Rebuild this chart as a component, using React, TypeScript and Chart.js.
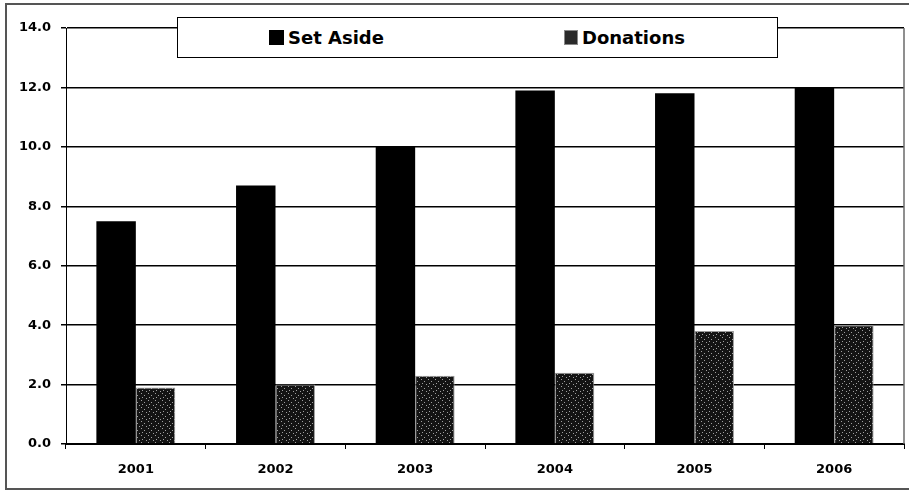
import React, { useEffect, useRef } from "react";
import { Chart, registerables } from "chart.js";

Chart.register(...registerables);

const categories = ["2001", "2002", "2003", "2004", "2005", "2006"];
const setAside = [7.5, 8.7, 10.0, 11.9, 11.8, 12.0];
const donations = [1.9, 2.0, 2.3, 2.4, 3.8, 4.0];
const seriesNames = ["Set Aside", "Donations"];

const FONT = "'DejaVu Sans', Verdana, sans-serif";

function makeDottedPattern(): CanvasPattern | string {
  const c = document.createElement("canvas");
  c.width = 7;
  c.height = 7;
  const ctx = c.getContext("2d");
  if (!ctx) return "#222";
  ctx.fillStyle = "#141414";
  ctx.fillRect(0, 0, 7, 7);
  ctx.fillStyle = "#a0a0a0";
  const dots = [
    [1, 1],
    [4, 3],
    [2, 5],
    [6, 6],
  ];
  dots.forEach(([x, y]) => ctx.fillRect(x, y, 1, 1));
  const p = ctx.createPattern(c, "repeat");
  return p || "#222";
}

const plotFrame = {
  id: "plotFrame",
  afterDraw(chart: any) {
    const { ctx, chartArea } = chart;
    ctx.save();
    ctx.strokeStyle = "#6a6a6a";
    ctx.lineWidth = 1.5;
    ctx.beginPath();
    ctx.moveTo(chartArea.right, chartArea.top);
    ctx.lineTo(chartArea.right, chartArea.bottom);
    ctx.stroke();
    ctx.restore();
  },
};

export default function App() {
  const canvasRef = useRef<HTMLCanvasElement | null>(null);

  useEffect(() => {
    if (!canvasRef.current) return;
    const pattern = makeDottedPattern();
    const chart = new Chart(canvasRef.current, {
      type: "bar",
      data: {
        labels: categories,
        datasets: [
          {
            label: seriesNames[0],
            data: setAside,
            backgroundColor: "#000000",
            borderColor: "#000000",
            borderWidth: 0,
          },
          {
            label: seriesNames[1],
            data: donations,
            backgroundColor: pattern as any,
            borderColor: "#9a9a9a",
            borderWidth: 1,
          },
        ],
      },
      options: {
        animation: false,
        responsive: false,
        maintainAspectRatio: false,
        devicePixelRatio: 1,
        layout: { padding: { left: 0, top: 28, right: 5, bottom: 0 } },
        plugins: {
          legend: { display: false },
          tooltip: { enabled: false },
          title: { display: false },
        },
        datasets: {
          bar: { categoryPercentage: 0.565, barPercentage: 1.0 },
        },
        scales: {
          x: {
            offset: true,
            grid: {
              display: true,
              offset: true,
              drawOnChartArea: false,
              drawTicks: true,
              tickLength: 5,
              color: "#000",
              lineWidth: 1,
            },
            border: { display: true, color: "#000", width: 2 },
            ticks: {
              color: "#000",
              padding: 13,
              font: { family: FONT, size: 13, weight: "bold" },
            },
            afterFit(scale: any) {
              scale.height = 49;
            },
          },
          y: {
            min: 0,
            max: 14,
            ticks: {
              stepSize: 2,
              color: "#000",
              padding: 10,
              font: { family: FONT, size: 13, weight: "bold" },
              callback: (v: any) => Number(v).toFixed(1),
            },
            grid: {
              display: true,
              drawTicks: true,
              tickLength: 5,
              color: "#000",
              lineWidth: 1.5,
            },
            border: { display: true, color: "#000", width: 1 },
            afterFit(scale: any) {
              scale.width = 66;
            },
          },
        },
      },
      plugins: [plotFrame],
    });
    return () => chart.destroy();
  }, []);

  return (
    <div
      style={{
        position: "fixed",
        left: 0,
        top: 0,
        width: 909,
        height: 493,
        background: "#fff",
        overflow: "hidden",
      }}
    >
      <div
        style={{
          position: "absolute",
          left: 5,
          top: 3,
          width: 920,
          height: 487,
          border: "2px solid #555",
          boxSizing: "border-box",
        }}
      />
      <canvas
        ref={canvasRef}
        width={909}
        height={493}
        style={{ position: "absolute", left: 0, top: 0, width: 909, height: 493 }}
      />
      <div
        style={{
          position: "absolute",
          left: 177,
          top: 17,
          width: 601,
          height: 41,
          border: "1px solid #000",
          boxSizing: "border-box",
          background: "#fff",
          fontFamily: FONT,
          fontWeight: "bold",
          fontSize: 18,
          color: "#000",
        }}
      >
        <div
          style={{
            position: "absolute",
            left: 91,
            top: 9,
            display: "flex",
            alignItems: "center",
            lineHeight: "21px",
          }}
        >
          <span
            style={{
              display: "inline-block",
              width: 15,
              height: 15,
              background: "#000",
              marginRight: 4,
            }}
          />
          {seriesNames[0]}
        </div>
        <div
          style={{
            position: "absolute",
            left: 386,
            top: 9,
            display: "flex",
            alignItems: "center",
            lineHeight: "21px",
          }}
        >
          <span
            style={{
              display: "inline-block",
              width: 14,
              height: 15,
              background: "#2a2a2a",
              border: "1px solid #888",
              boxSizing: "border-box",
              marginRight: 4,
            }}
          />
          {seriesNames[1]}
        </div>
      </div>
    </div>
  );
}
